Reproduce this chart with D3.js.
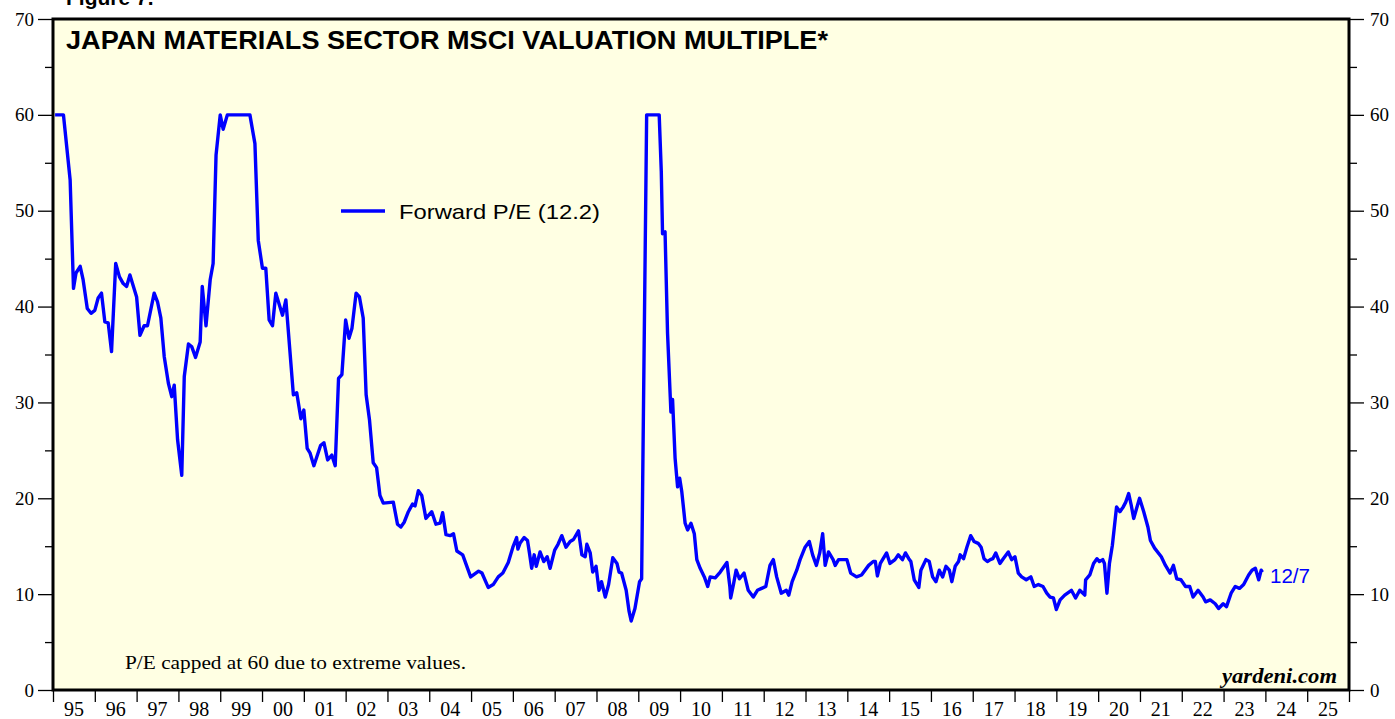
<!DOCTYPE html>
<html><head><meta charset="utf-8">
<script src="https://cdn.jsdelivr.net/npm/d3@7"></script>
<style>body{margin:0;background:#fff;}svg{display:block;}</style>
</head><body>
<svg id="chart" width="1395" height="719"></svg>
<script>
// decimal-year dates and forward P/E values (capped at 60)
const dates = [
1995.05,1995.25,1995.41,1995.49,1995.55,1995.65,1995.72,1995.82,1995.91,1996.0,1996.08,1996.16,1996.24,1996.32,1996.40,1996.50,1996.59,1996.68,1996.76,1996.84,1997.0,1997.08,1997.18,1997.26,1997.42,1997.50,1997.58,1997.66,1997.76,1997.84,1997.90,1997.98,1998.08,1998.14,1998.24,1998.32,1998.41,1998.52,1998.57,1998.66,1998.76,1998.83,1998.90,1999.0,1999.07,1999.17,1999.71,1999.83,1999.91,2000.01,2000.09,2000.17,2000.25,2000.33,2000.49,2000.57,2000.75,2000.83,2000.93,2001.0,2001.08,2001.15,2001.24,2001.40,2001.48,2001.57,2001.67,2001.75,2001.83,2001.91,2002.0,2002.08,2002.15,2002.25,2002.33,2002.42,2002.49,2002.57,2002.66,2002.74,2002.82,2002.90,2003.14,2003.24,2003.32,2003.40,2003.50,2003.60,2003.66,2003.74,2003.82,2003.92,2004.06,2004.16,2004.26,2004.32,2004.40,2004.50,2004.58,2004.66,2004.80,2004.99,2005.18,2005.26,2005.41,2005.53,2005.65,2005.76,2005.89,2006.0,2006.09,2006.12,2006.17,2006.27,2006.35,2006.40,2006.45,2006.51,2006.56,2006.65,2006.74,2006.82,2006.89,2007.0,2007.08,2007.17,2007.27,2007.37,2007.45,2007.57,2007.65,2007.73,2007.77,2007.85,2007.91,2007.99,2008.06,2008.12,2008.21,2008.29,2008.39,2008.49,2008.54,2008.60,2008.71,2008.78,2008.83,2008.92,2009.03,2009.08,2009.20,2009.50,2009.55,2009.58,2009.64,2009.70,2009.78,2009.82,2009.88,2009.94,2009.99,2010.04,2010.12,2010.18,2010.26,2010.34,2010.40,2010.48,2010.58,2010.66,2010.72,2010.84,2010.96,2011.12,2011.19,2011.21,2011.28,2011.34,2011.42,2011.53,2011.63,2011.75,2011.85,2011.95,2012.05,2012.15,2012.23,2012.31,2012.42,2012.54,2012.60,2012.68,2012.79,2012.87,2012.99,2013.09,2013.17,2013.26,2013.34,2013.41,2013.47,2013.55,2013.66,2013.71,2013.79,2013.99,2014.08,2014.22,2014.34,2014.51,2014.62,2014.67,2014.72,2014.79,2014.94,2015.02,2015.14,2015.22,2015.32,2015.39,2015.47,2015.52,2015.60,2015.71,2015.76,2015.88,2015.96,2016.04,2016.12,2016.20,2016.28,2016.36,2016.44,2016.50,2016.58,2016.66,2016.70,2016.78,2016.86,2016.95,2017.03,2017.13,2017.20,2017.27,2017.35,2017.42,2017.48,2017.55,2017.65,2017.73,2017.85,2017.93,2018.01,2018.09,2018.17,2018.28,2018.39,2018.47,2018.57,2018.68,2018.77,2018.85,2018.93,2019.0,2019.09,2019.20,2019.36,2019.46,2019.56,2019.68,2019.70,2019.80,2019.89,2019.97,2020.03,2020.11,2020.15,2020.21,2020.27,2020.34,2020.44,2020.52,2020.60,2020.66,2020.73,2020.79,2020.85,2020.91,2020.99,2021.09,2021.19,2021.25,2021.35,2021.51,2021.61,2021.72,2021.80,2021.88,2021.98,2022.09,2022.19,2022.27,2022.39,2022.51,2022.57,2022.68,2022.80,2022.88,2022.99,2023.07,2023.18,2023.28,2023.38,2023.48,2023.60,2023.68,2023.76,2023.84,2023.90,2023.93
];
const values = [
60,60,53.2,41.9,43.5,44.2,42.8,39.8,39.3,39.6,40.9,41.4,38.4,38.3,35.3,44.5,43.1,42.4,42.1,43.3,41.0,37.0,38.0,38.0,41.4,40.5,38.8,34.8,32.0,30.6,31.8,26.1,22.4,32.7,36.1,35.8,34.7,36.3,42.1,38.0,42.8,44.5,55.8,60,58.5,60,60,57.0,46.9,44.0,44.0,38.6,38.0,41.4,39.1,40.7,30.8,31.0,28.3,29.2,25.2,24.7,23.4,25.5,25.8,24.0,24.5,23.4,32.5,32.9,38.6,36.7,37.7,41.4,41.0,38.8,30.8,28.2,23.7,23.2,20.3,19.5,19.6,17.3,17.0,17.5,18.6,19.4,19.2,20.8,20.3,17.9,18.6,17.3,17.4,18.5,16.2,16.1,16.3,14.5,14.1,11.8,12.4,12.2,10.7,11.0,11.8,12.2,13.3,14.9,15.9,14.7,15.3,15.9,15.6,14.2,12.7,14.1,12.9,14.4,13.4,13.9,12.7,14.6,15.2,16.1,14.9,15.5,15.7,16.6,14.1,13.9,15.2,14.3,12.3,12.9,10.4,11.3,9.7,11.0,13.8,13.2,12.3,12.2,10.4,8.2,7.2,8.5,11.3,11.6,60,60,54.1,47.6,47.8,37.2,29.0,30.3,24.2,21.2,22.1,20.7,17.4,16.7,17.4,16.3,13.6,12.7,11.8,10.8,11.8,11.7,12.3,13.3,10.8,9.6,11.1,12.5,11.6,12.2,10.4,9.7,10.4,10.6,10.8,13.0,13.6,11.8,10.1,10.4,9.9,11.3,12.5,13.6,14.9,15.5,14.1,13.0,14.3,16.3,13.0,14.4,13.6,13.0,13.6,13.6,12.2,11.8,12.0,13.0,13.4,13.4,11.9,13.2,14.3,13.2,13.6,14.1,13.6,14.3,13.7,13.4,11.5,10.7,12.5,13.6,13.4,11.8,11.3,12.5,11.8,12.9,12.5,11.3,12.9,13.4,14.1,13.7,14.9,16.1,15.5,15.3,14.9,13.7,13.4,13.6,13.7,14.3,13.2,13.7,14.4,13.6,13.9,12.2,11.8,11.5,11.8,10.8,11.0,10.8,10.1,9.7,9.6,8.4,9.4,9.9,10.4,9.6,10.4,9.9,11.5,12.0,13.2,13.7,13.4,13.6,13.2,10.1,13.2,15.1,19.1,18.6,19.1,19.6,20.5,19.3,17.9,18.8,20.0,18.6,17.0,15.6,14.8,13.9,13.0,12.2,13.0,11.6,11.5,10.8,10.8,9.7,10.4,9.7,9.2,9.4,9.0,8.5,9.0,8.7,10.1,10.8,10.6,11.0,12.0,12.5,12.7,11.5,12.5,12.3,12.3
];
const yTicks = [0,10,20,30,40,50,60,70];
const yMinorTicks = [5,15,25,35,45,55,65];
const yearLabels = ["95","96","97","98","99","00","01","02","03","04","05","06","07","08","09","10","11","12","13","14","15","16","17","18","19","20","21","22","23","24","25"];
const firstYear = 1995;

const data = dates.map((d,i)=>({t:d, v:values[i]}));

const svg = d3.select("#chart");
const L = 53, R = 1349, T = 19, B = 690;
const x = d3.scaleLinear().domain([firstYear, firstYear + yearLabels.length]).range([L, R]);
const y = d3.scaleLinear().domain([0,70]).range([B, T]);
const sans = "Liberation Sans, Arial, sans-serif";
const serif = "Liberation Serif, Times New Roman, serif";

// plot background
svg.append("rect").attr("x",L).attr("y",T).attr("width",R-L).attr("height",B-T).attr("fill","#FFFFE3");

// Figure label (cut off at top, as in the reference)
svg.append("text").attr("x",66).attr("y",5).attr("font-family",sans)
  .attr("font-weight","bold").attr("font-size",21).text("Figure 7.");

// title
svg.append("text").attr("x",66).attr("y",49).attr("font-family",sans)
  .attr("font-weight","bold").attr("font-size",25).attr("fill","#000")
  .attr("textLength",762).attr("lengthAdjust","spacingAndGlyphs")
  .text("JAPAN MATERIALS SECTOR MSCI VALUATION MULTIPLE*");

// y axes
const leftAxis = d3.axisLeft(y).tickValues(yTicks).tickSize(15).tickPadding(4).tickFormat(d3.format("d"));
const rightAxis = d3.axisRight(y).tickValues(yTicks).tickSize(15).tickPadding(6).tickFormat(d3.format("d"));
svg.append("g").attr("transform",`translate(${L},0)`).call(leftAxis);
svg.append("g").attr("transform",`translate(${R},0)`).call(rightAxis);
svg.append("g").attr("transform",`translate(${L},0)`).call(d3.axisLeft(y).tickValues(yMinorTicks).tickSize(8).tickFormat(""));
svg.append("g").attr("transform",`translate(${R},0)`).call(d3.axisRight(y).tickValues(yMinorTicks).tickSize(8).tickFormat(""));

// x axis: ticks at year boundaries, labels centred in each year
const yearBounds = d3.range(firstYear, firstYear + yearLabels.length + 1);
svg.append("g").attr("transform",`translate(0,${B})`)
  .call(d3.axisBottom(x).tickValues(yearBounds).tickSize(12).tickFormat(""));
svg.append("g").selectAll("text").data(yearLabels).join("text")
  .attr("x",(d,i)=>x(firstYear + i + 0.5)).attr("y",716).attr("text-anchor","middle")
  .attr("font-family",serif).attr("font-size",20).text(d=>d);

svg.selectAll(".domain").remove();
svg.selectAll(".tick line").attr("stroke","#000").attr("stroke-width",1.3);
svg.selectAll(".tick text").attr("font-family",serif).attr("font-size",19).attr("fill","#000");

// frame
svg.append("rect").attr("x",L).attr("y",T).attr("width",R-L).attr("height",B-T)
  .attr("fill","none").attr("stroke","#000").attr("stroke-width",3);

// line
const line = d3.line().x(d=>x(d.t)).y(d=>y(d.v));
svg.append("path").datum(data).attr("d",line).attr("fill","none")
  .attr("stroke","#0000FF").attr("stroke-width",3.4).attr("stroke-linejoin","round");

// legend
svg.append("line").attr("x1",341).attr("x2",385).attr("y1",211).attr("y2",211).attr("stroke","#0000FF").attr("stroke-width",3.4);
svg.append("text").attr("x",399).attr("y",219).attr("font-family",sans)
  .attr("font-size",21).attr("textLength",201).attr("lengthAdjust","spacingAndGlyphs").text("Forward P/E (12.2)");

// last-date label
svg.append("text").attr("x",1270).attr("y",583).attr("font-family",sans)
  .attr("font-size",20).attr("textLength",40).attr("lengthAdjust","spacingAndGlyphs")
  .attr("fill","#0000FF").text("12/7");

// footnote
svg.append("text").attr("x",125).attr("y",669).attr("font-family",serif).attr("font-size",19)
  .attr("textLength",341).attr("lengthAdjust","spacingAndGlyphs").text("P/E capped at 60 due to extreme values.");
svg.append("text").attr("x",1337).attr("y",683).attr("text-anchor","end").attr("font-family",serif)
  .attr("font-weight","bold").attr("font-style","italic").attr("font-size",21)
  .attr("textLength",115).attr("lengthAdjust","spacingAndGlyphs").text("yardeni.com");
</script>
</body></html>
